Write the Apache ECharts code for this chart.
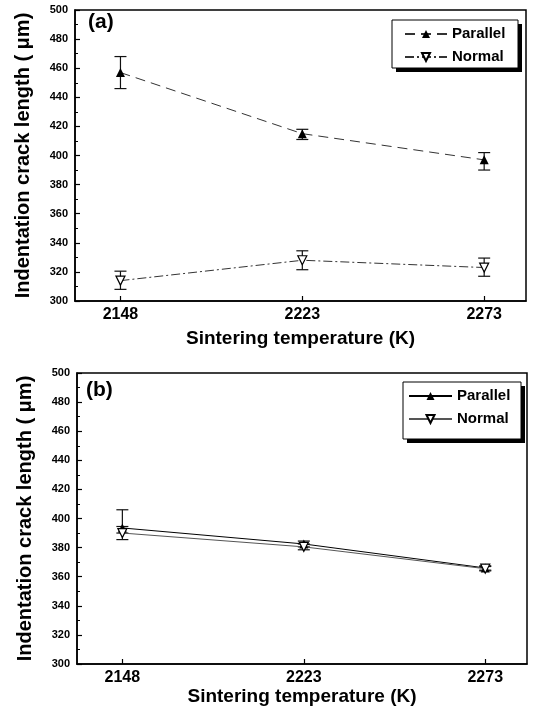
<!DOCTYPE html>
<html>
<head>
<meta charset="utf-8">
<script src="https://cdn.jsdelivr.net/npm/echarts@6/dist/echarts.min.js"></script>
<style>
html,body{margin:0;padding:0;background:#fff;}
#chart{width:533px;height:716px;}
</style>
</head>
<body>
<div id="chart"></div>
<script>
// sintering temperatures (equally spaced categories on the plot)
var temps = ['2148', '2223', '2273'];

// panel (a)
var aParallel = [457, 415, 397];
var aParallelLow = [446, 411, 390];
var aParallelHigh = [468, 418, 402];
var aNormal = [314, 328, 323];
var aNormalLow = [308, 321.5, 317];
var aNormalHigh = [320.5, 334.5, 329.5];

// panel (b)
var bParallel = [393.5, 382.5, 366];
var bParallelLow = [390, 380.5, 364.5];
var bParallelHigh = [406, 384.5, 367.5];
var bNormal = [390, 380.5, 365.5];
var bNormalLow = [385.5, 378.5, 364];
var bNormalHigh = [394.5, 382.5, 367];

var font = 'Liberation Sans, Arial, sans-serif';

function pts(vals) {
    return vals.map(function (v, i) { return [i, v]; });
}
function errs(low, high) {
    return low.map(function (v, i) { return [i, v, high[i]]; });
}

function renderErr(params, api) {
    var top = api.coord([api.value(0), api.value(2)]);
    var bot = api.coord([api.value(0), api.value(1)]);
    var hw = 6;
    var st = {stroke: '#111', lineWidth: 1.2};
    return {
        type: 'group',
        children: [
            {type: 'line', shape: {x1: top[0], y1: top[1], x2: bot[0], y2: bot[1]}, style: st},
            {type: 'line', shape: {x1: top[0] - hw, y1: top[1], x2: top[0] + hw, y2: top[1]}, style: st},
            {type: 'line', shape: {x1: bot[0] - hw, y1: bot[1], x2: bot[0] + hw, y2: bot[1]}, style: st}
        ]
    };
}

function xAxisFor(idx) {
    return {
        gridIndex: idx,
        type: 'value',
        min: -0.25,
        max: 2.23,
        name: 'Sintering temperature (K)',
        nameLocation: 'middle',
        nameGap: idx === 0 ? 28 : 18,
        nameTextStyle: {fontFamily: font, fontWeight: 'bold', fontSize: 19, color: '#000'},
        axisLine: {show: true, onZero: false, lineStyle: {color: '#000', width: 1.5}},
        axisTick: {show: true, inside: true, length: 5, customValues: [0, 1, 2], lineStyle: {color: '#000', width: 1.2}},
        axisLabel: {
            customValues: [0, 1, 2],
            margin: 6,
            fontFamily: font, fontWeight: 'bold', fontSize: 16, color: '#000',
            formatter: function (v) { return temps[Math.round(v)]; }
        },
        splitLine: {show: false}
    };
}

function yAxisFor(idx) {
    return {
        gridIndex: idx,
        type: 'value',
        min: 300,
        max: 500,
        interval: 20,
        name: 'Indentation crack length ( μm)',
        nameLocation: 'middle',
        nameGap: 42,
        nameTextStyle: {fontFamily: font, fontWeight: 'bold', fontSize: 20, color: '#000'},
        axisLine: {show: true, onZero: false, lineStyle: {color: '#000', width: 1.5}},
        axisTick: {show: true, inside: true, length: 5, lineStyle: {color: '#000', width: 1.2}},
        minorTick: {show: true, splitNumber: 2, length: 3, lineStyle: {color: '#000', width: 1}},
        axisLabel: {margin: 7, fontFamily: font, fontWeight: 'bold', fontSize: 11, color: '#000'},
        splitLine: {show: false}
    };
}

var legendText = {fontFamily: font, fontWeight: 'bold', fontSize: 15, lineHeight: 16, color: '#000'};

// legend frame with hard drop shadow
function legendBox(x, y, w, h) {
    return [
        {type: 'rect', z: 3, shape: {x: x + 4, y: y + 4, width: w, height: h}, style: {fill: '#000'}},
        {type: 'rect', z: 4, shape: {x: x, y: y, width: w, height: h}, style: {fill: '#fff', stroke: '#000', lineWidth: 1}}
    ];
}

var option = {
    backgroundColor: '#fff',
    animation: false,
    grid: [
        {left: 75, right: 7, top: 10, bottom: 415, show: true, borderColor: '#000', borderWidth: 1.5},
        {left: 77, right: 6, top: 373, bottom: 52, show: true, borderColor: '#000', borderWidth: 1.5}
    ],
    xAxis: [xAxisFor(0), xAxisFor(1)],
    yAxis: [yAxisFor(0), yAxisFor(1)],
    legend: [
        {
            data: ['Parallel', 'Normal'],
            left: 404, top: 26,
            orient: 'vertical',
            padding: 0,
            itemGap: 7,
            itemWidth: 42, itemHeight: 10,
            z: 10,
            textStyle: legendText
        },
        {
            data: ['Parallel ', 'Normal '],
            left: 408, top: 388,
            orient: 'vertical',
            padding: 0,
            itemGap: 7,
            itemWidth: 43, itemHeight: 10,
            z: 10,
            textStyle: legendText,
            formatter: function (n) { return n.trim(); }
        }
    ],
    graphic: legendBox(392, 20, 126, 48).concat(legendBox(403, 382, 118, 57)).concat([
        {type: 'text', left: 88, top: 12, style: {text: '(a)', font: 'bold 21px ' + font, fill: '#000'}},
        {type: 'text', left: 86, top: 380, style: {text: '(b)', font: 'bold 21px ' + font, fill: '#000'}}
    ]),
    series: [
        {
            name: 'Parallel', type: 'line', xAxisIndex: 0, yAxisIndex: 0,
            data: pts(aParallel),
            symbol: 'triangle', symbolSize: 9,
            itemStyle: {color: '#000'},
            lineStyle: {color: '#333', width: 1, type: [10, 6]}
        },
        {
            name: 'Normal', type: 'line', xAxisIndex: 0, yAxisIndex: 0,
            data: pts(aNormal),
            symbol: 'triangle', symbolRotate: 180, symbolSize: 9,
            itemStyle: {color: '#fff', borderColor: '#000', borderWidth: 1.2},
            lineStyle: {color: '#333', width: 1, type: [9, 3, 2, 3]}
        },
        {
            type: 'custom', xAxisIndex: 0, yAxisIndex: 0,
            renderItem: renderErr, data: errs(aParallelLow, aParallelHigh), z: 1
        },
        {
            type: 'custom', xAxisIndex: 0, yAxisIndex: 0,
            renderItem: renderErr, data: errs(aNormalLow, aNormalHigh), z: 1
        },
        {
            name: 'Parallel ', type: 'line', xAxisIndex: 1, yAxisIndex: 1,
            data: pts(bParallel),
            symbol: 'triangle', symbolSize: 9,
            itemStyle: {color: '#000'},
            lineStyle: {color: '#000', width: 1}
        },
        {
            name: 'Normal ', type: 'line', xAxisIndex: 1, yAxisIndex: 1,
            data: pts(bNormal),
            symbol: 'triangle', symbolRotate: 180, symbolSize: 9,
            itemStyle: {color: '#fff', borderColor: '#000', borderWidth: 1.2},
            lineStyle: {color: '#555', width: 1}
        },
        {
            type: 'custom', xAxisIndex: 1, yAxisIndex: 1,
            renderItem: renderErr, data: errs(bParallelLow, bParallelHigh), z: 1
        },
        {
            type: 'custom', xAxisIndex: 1, yAxisIndex: 1,
            renderItem: renderErr, data: errs(bNormalLow, bNormalHigh), z: 1
        }
    ]
};

var myChart = echarts.init(document.getElementById('chart'));
myChart.setOption(option);
</script>
</body>
</html>
